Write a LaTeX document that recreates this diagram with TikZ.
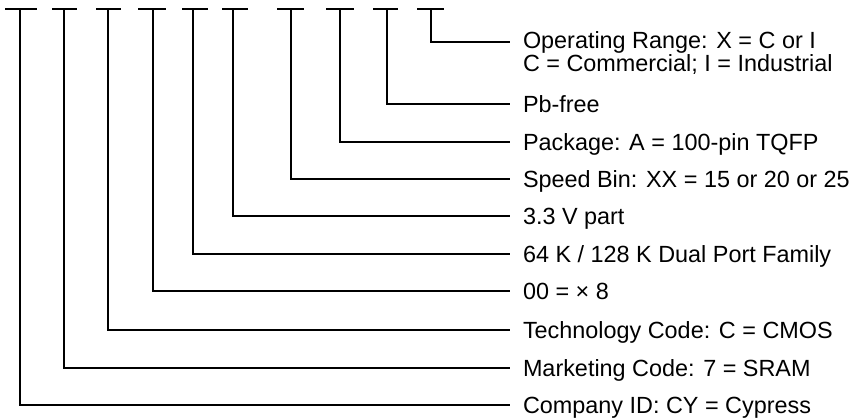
\documentclass[tikz,border=0pt]{standalone}
\usepackage{fontspec}
\setmainfont{Liberation Sans}
\begin{document}
\begin{tikzpicture}[x=1pt,y=-1pt,line width=2pt,
  lbl/.style={anchor=base west,inner sep=0pt,font=\fontsize{23.4}{21}\selectfont,align=left},
  leader/.style={line width=2pt}]
\useasboundingbox (0,0) rectangle (855,418);
% stem tops
\coordinate (t1) at (20,9);
\coordinate (t2) at (64,9);
\coordinate (t3) at (108,9);
\coordinate (t4) at (153,9);
\coordinate (t5) at (193,9);
\coordinate (t6) at (233,9);
\coordinate (t7) at (291,9);
\coordinate (t8) at (340,9);
\coordinate (t9) at (387,9);
\coordinate (t10) at (431,9);
% line ends
\coordinate (e1) at (510,405);
\coordinate (e2) at (510,368);
\coordinate (e3) at (510,330);
\coordinate (e4) at (510,291);
\coordinate (e5) at (510,254);
\coordinate (e6) at (510,216);
\coordinate (e7) at (510,179);
\coordinate (e8) at (510,142);
\coordinate (e9) at (510,104);
\coordinate (e10) at (510,42);
% bars
\draw ([xshift=-15pt]t1) -- ([xshift=17pt]t1);
\draw ([xshift=-12pt]t2) -- ([xshift=13pt]t2);
\draw ([xshift=-12pt]t3) -- ([xshift=13pt]t3);
\draw ([xshift=-15pt]t4) -- ([xshift=13pt]t4);
\draw ([xshift=-11pt]t5) -- ([xshift=15pt]t5);
\draw ([xshift=-11pt]t6) -- ([xshift=15pt]t6);
\draw ([xshift=-14pt]t7) -- ([xshift=13pt]t7);
\draw ([xshift=-14pt]t8) -- ([xshift=14pt]t8);
\draw ([xshift=-14pt]t9) -- ([xshift=11pt]t9);
\draw ([xshift=-14pt]t10) -- ([xshift=13pt]t10);
% leaders
\foreach \i in {1,...,10} \draw[leader] (t\i) |- (e\i);
% labels
\node[lbl] (l10) at (522,71) {Operating Range: X = C or I\\C = Commercial; I = Industrial};
\node[lbl] (l9) at (522,112.4) {Pb-free};
\node[lbl] (l8) at (522,150.4) {Package: A = 100-pin TQFP};
\node[lbl] (l7) at (522,187.4) {Speed Bin: XX = 15 or 20 or 25};
\node[lbl] (l6) at (522,224.4) {3.3 V part};
\node[lbl] (l5) at (522,262.4) {64 K / 128 K Dual Port Family};
\node[lbl] (l4) at (522,299.4) {00 = × 8};
\node[lbl] (l3) at (522,338.4) {Technology Code: C = CMOS};
\node[lbl] (l2) at (522,376.4) {Marketing Code: 7 = SRAM};
\node[lbl] (l1) at (522,413.4) {Company ID: CY = Cypress};
\end{tikzpicture}
\end{document}
